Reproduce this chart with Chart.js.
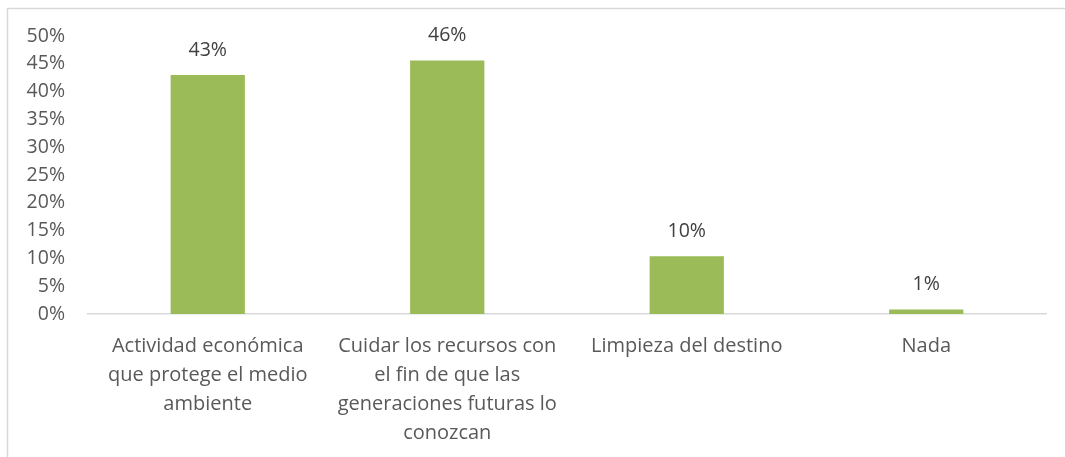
<!DOCTYPE html>
<html>
<head>
<meta charset="utf-8">
<script src="https://cdn.jsdelivr.net/npm/chart.js@4"></script>
<style>
  html, body { margin: 0; padding: 0; background: #fff; }
  #wrap { width: 1065px; height: 457px; position: relative; }
</style>
</head>
<body>
<div id="wrap"><canvas id="chart"></canvas></div>
<script>
const categories = [
  ["Actividad económica", "que protege el medio", "ambiente"],
  ["Cuidar los recursos con", "el fin de que las", "generaciones futuras lo", "conozcan"],
  ["Limpieza del destino"],
  ["Nada"],
];
const values = [43, 45.6, 10.4, 0.8];
const valueLabels = ["43%", "46%", "10%", "1%"];

const fontFamily = "'Open Sans', sans-serif";

// frame lines on the top and left edges, like the source picture
const framePlugin = {
  id: "frame",
  beforeDraw(chart) {
    const ctx = chart.ctx;
    ctx.save();
    ctx.strokeStyle = "#d9d9d9";
    ctx.lineWidth = 1.5;
    ctx.beginPath();
    ctx.moveTo(7.5, 457);
    ctx.lineTo(7.5, 8.5);
    ctx.lineTo(1065, 8.5);
    ctx.stroke();
    ctx.restore();
  },
};

// value labels above each bar
const valueLabelPlugin = {
  id: "valueLabels",
  afterDatasetsDraw(chart) {
    const ctx = chart.ctx;
    const meta = chart.getDatasetMeta(0);
    ctx.save();
    ctx.fillStyle = "#404040";
    ctx.font = "19.5px " + fontFamily;
    ctx.textAlign = "center";
    ctx.textBaseline = "bottom";
    meta.data.forEach((bar, i) => {
      ctx.fillText(valueLabels[i], bar.x, bar.y - 15);
    });
    ctx.restore();
  },
};

new Chart(document.getElementById("chart"), {
  type: "bar",
  data: {
    labels: categories,
    datasets: [
      {
        data: values,
        backgroundColor: "#9bbb59",
        barPercentage: 0.31,
        categoryPercentage: 1,
      },
    ],
  },
  options: {
    responsive: true,
    maintainAspectRatio: false,
    animation: false,
    layout: { padding: { top: 36, right: 19, bottom: 0, left: 0 } },
    plugins: {
      legend: { display: false },
      tooltip: { enabled: false },
    },
    scales: {
      x: {
        grid: { display: false },
        border: { display: true, color: "#d9d9d9", width: 1.5 },
        ticks: {
          color: "#595959",
          font: { family: fontFamily, size: 20, lineHeight: 1.44 },
          padding: 10,
          maxRotation: 0,
          autoSkip: false,
        },
        afterFit(scale) {
          scale.height = 143;
        },
      },
      y: {
        min: 0,
        max: 50,
        grid: { display: false },
        border: { display: false },
        ticks: {
          stepSize: 5,
          color: "#595959",
          font: { family: fontFamily, size: 19.5 },
          padding: 15,
          callback: (v) => v + "%",
        },
        afterFit(scale) {
          scale.width = 88;
        },
      },
    },
  },
  plugins: [framePlugin, valueLabelPlugin],
});
</script>
</body>
</html>
